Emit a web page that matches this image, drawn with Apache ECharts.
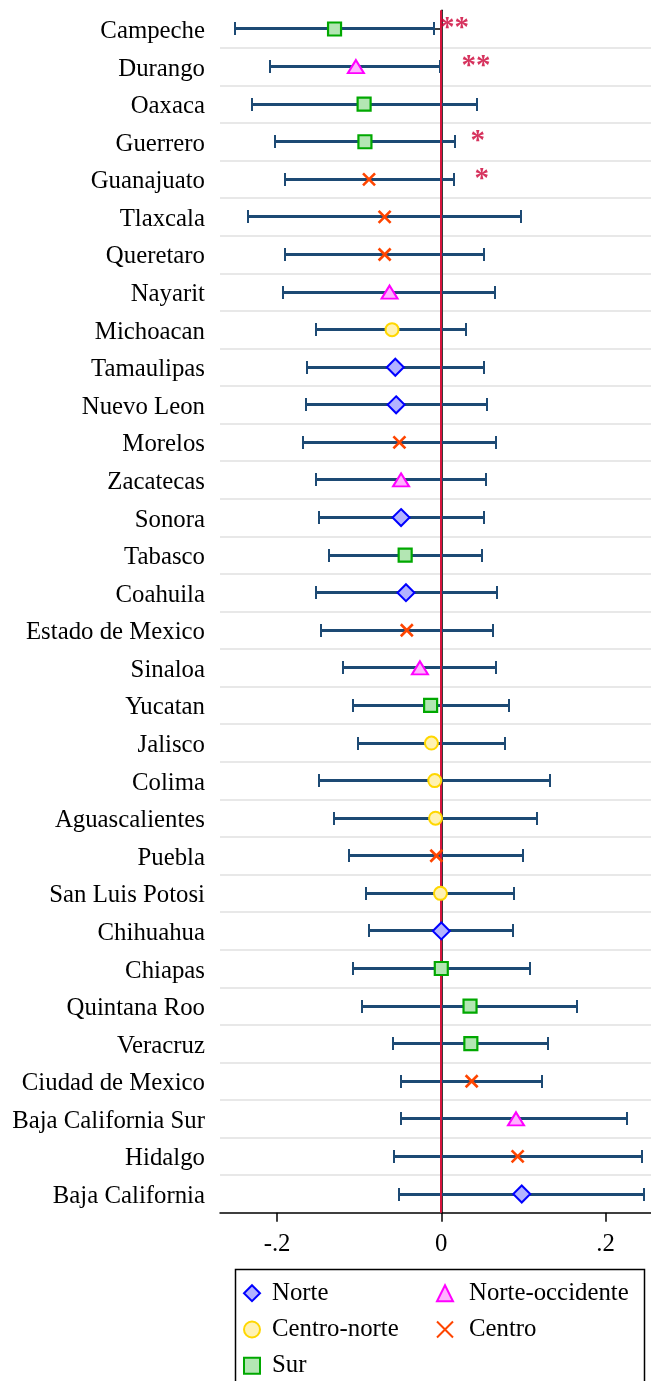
<!DOCTYPE html>
<html>
<head>
<meta charset="utf-8">
<script src="https://cdn.jsdelivr.net/npm/echarts@6/dist/echarts.min.js"></script>
<style>
  html, body { margin: 0; padding: 0; background: #fff; }
  #chart { width: 651px; height: 1381px; }
</style>
</head>
<body>
<div id="chart"></div>
<script>
// State-level coefficients with 95% confidence intervals
const states = [
  'Campeche', 'Durango', 'Oaxaca', 'Guerrero', 'Guanajuato', 'Tlaxcala', 'Queretaro',
  'Nayarit', 'Michoacan', 'Tamaulipas', 'Nuevo Leon', 'Morelos', 'Zacatecas', 'Sonora',
  'Tabasco', 'Coahuila', 'Estado de Mexico', 'Sinaloa', 'Yucatan', 'Jalisco', 'Colima',
  'Aguascalientes', 'Puebla', 'San Luis Potosi', 'Chihuahua', 'Chiapas', 'Quintana Roo',
  'Veracruz', 'Ciudad de Mexico', 'Baja California Sur', 'Hidalgo', 'Baja California'
];
const regionOf = [
  'Sur', 'Norte-occidente', 'Sur', 'Sur', 'Centro', 'Centro', 'Centro',
  'Norte-occidente', 'Centro-norte', 'Norte', 'Norte', 'Centro', 'Norte-occidente', 'Norte',
  'Sur', 'Norte', 'Centro', 'Norte-occidente', 'Sur', 'Centro-norte', 'Centro-norte',
  'Centro-norte', 'Centro', 'Centro-norte', 'Norte', 'Sur', 'Sur',
  'Sur', 'Centro', 'Norte-occidente', 'Centro', 'Norte'
];
const estimate = [
  -0.130, -0.104, -0.094, -0.093, -0.088, -0.069, -0.069,
  -0.063, -0.060, -0.056, -0.055, -0.051, -0.049, -0.049,
  -0.044, -0.043, -0.042, -0.026, -0.013, -0.012, -0.008,
  -0.007, -0.006, -0.001, 0.000, 0.000, 0.035,
  0.036, 0.037, 0.091, 0.093, 0.098
];
const lower = [
  -0.251, -0.208, -0.230, -0.202, -0.190, -0.235, -0.190,
  -0.193, -0.152, -0.163, -0.165, -0.168, -0.152, -0.149,
  -0.137, -0.153, -0.147, -0.120, -0.108, -0.102, -0.149,
  -0.131, -0.113, -0.092, -0.088, -0.108, -0.096,
  -0.059, -0.049, -0.049, -0.058, -0.051
];
const upper = [
  -0.009, -0.001, 0.043, 0.017, 0.015, 0.097, 0.052,
  0.066, 0.030, 0.052, 0.056, 0.067, 0.054, 0.052,
  0.049, 0.068, 0.063, 0.067, 0.082, 0.078, 0.133,
  0.117, 0.100, 0.089, 0.087, 0.108, 0.165,
  0.130, 0.123, 0.226, 0.244, 0.247
];
const stars = [
  '**', '**', '', '*', '*', '', '',
  '', '', '', '', '', '', '',
  '', '', '', '', '', '', '',
  '', '', '', '', '', '',
  '', '', '', '', ''
];
const regions = ['Norte', 'Norte-occidente', 'Centro-norte', 'Centro', 'Sur'];
const xTicks = [-0.2, 0, 0.2];

const SERIF = "'Liberation Serif', 'Times New Roman', serif";
const BAR = '#1d4a74';
const RED = '#d7143c';
const GRID = '#e8e8e8';

const markerStyle = {
  'Norte':           { symbol: 'diamond',  size: [17, 17], fill: '#b3b3ff', stroke: '#0000ff', w: 2 },
  'Norte-occidente': { symbol: 'triangle', size: [16, 13], fill: '#ffb3ff', stroke: '#ff00ff', w: 2 },
  'Centro-norte':    { symbol: 'circle',   size: 13,       fill: '#fff2b3', stroke: '#ffd700', w: 2 },
  'Centro':          { symbol: 'path://M0,0L10,10M10,0L0,10', size: 12, fill: '#ff4500', stroke: '#ff4500', w: 2.6 },
  'Sur':             { symbol: 'rect',     size: 13,       fill: '#b3e6b3', stroke: '#00a800', w: 2.2 }
};

function tickText(v) {
  if (Math.abs(v) < 1e-9) return '0';
  return String(+v.toFixed(1)).replace('0.', '.');
}

const chart = echarts.init(document.getElementById('chart'), null, { renderer: 'canvas' });

// confidence-interval bars with end caps, snapped to the pixel grid for crisp strokes
const ciSeries = {
  type: 'custom',
  name: 'ci',
  z: 2,
  silent: true,
  encode: { x: [1, 2], y: 0 },
  data: states.map((s, i) => [i, lower[i], upper[i]]),
  renderItem(params, api) {
    const row = api.value(0);
    const a = api.coord([api.value(1), row]);
    const b = api.coord([api.value(2), row]);
    const y = Math.floor(a[1]) + 0.5;
    const xa = Math.round(a[0]);
    const xb = Math.round(b[0]);
    const cap = 6.5;
    return {
      type: 'group',
      children: [
        { type: 'line', shape: { x1: xa, y1: y, x2: xb, y2: y }, style: { stroke: BAR, lineWidth: 3 } },
        { type: 'line', shape: { x1: xa, y1: y - cap, x2: xa, y2: y + cap }, style: { stroke: BAR, lineWidth: 2 } },
        { type: 'line', shape: { x1: xb, y1: y - cap, x2: xb, y2: y + cap }, style: { stroke: BAR, lineWidth: 2 } }
      ]
    };
  }
};

// vertical reference line at zero, snapped to whole pixels
const zeroSeries = {
  type: 'custom',
  name: 'zero',
  z: 3,
  silent: true,
  data: [[0]],
  encode: { x: 0 },
  renderItem(params, api) {
    const cs = params.coordSys;
    const x = Math.round(api.coord([api.value(0), 0])[0]);
    return { type: 'line', shape: { x1: x, y1: cs.y, x2: x, y2: cs.y + cs.height }, style: { stroke: RED, lineWidth: 2 } };
  }
};

const markerSeries = regions.map(r => {
  const m = markerStyle[r];
  return {
    type: 'scatter',
    name: r,
    z: 4,
    symbol: m.symbol,
    symbolSize: m.size,
    itemStyle: { color: m.fill, borderColor: m.stroke, borderWidth: m.w, opacity: 1 },
    data: states.map((s, i) => regionOf[i] === r ? [estimate[i], s] : null).filter(Boolean)
  };
});

const starSeries = {
  type: 'scatter',
  name: 'sig',
  z: 5,
  silent: true,
  symbolSize: 1,
  itemStyle: { color: 'rgba(0,0,0,0)' },
  data: states.map((s, i) => stars[i] ? [estimate[i], s, stars[i]] : null).filter(Boolean),
  label: {
    show: true,
    position: 'right',
    distance: 105,
    formatter: p => p.data[2],
    color: '#cc0036',
    fontFamily: SERIF,
    fontWeight: 'bold',
    fontSize: 29
  }
};

function legendText(gap) {
  return {
    fontFamily: SERIF, fontSize: 24.8, color: '#000', lineHeight: 24,
    rich: { g: { width: gap } }
  };
}

chart.setOption({
  animation: false,
  backgroundColor: '#fff',
  textStyle: { fontFamily: SERIF },
  grid: { left: 220, right: 0, top: 10.2, bottom: 168.2, outerBoundsMode: 'none', containLabel: false },
  xAxis: {
    type: 'value',
    min: -0.2695,
    max: 0.2554,
    minInterval: 0.2,
    maxInterval: 0.2,
    axisLine: { show: true, onZero: false, lineStyle: { color: '#000', width: 1.5 } },
    axisTick: { show: true, length: 9, customValues: xTicks, lineStyle: { color: '#000', width: 1.5 } },
    axisLabel: { customValues: xTicks, margin: 19, fontSize: 24.8, fontFamily: SERIF, color: '#000', formatter: tickText },
    splitLine: { show: true, showMinLine: false, showMaxLine: false, lineStyle: { color: GRID, width: 2 } }
  },
  yAxis: {
    type: 'category',
    data: states,
    inverse: true,
    boundaryGap: true,
    axisLine: { show: true, lineStyle: { color: '#000', width: 1.5 } },
    axisTick: { show: true, alignWithLabel: true, interval: 0, length: 9, lineStyle: { color: '#000', width: 1.5 } },
    axisLabel: {
      interval: 0, margin: 15, color: '#000',
      formatter: v => '{t|' + v + '}',
      rich: { t: { fontSize: 24.8, fontFamily: SERIF, color: '#000', padding: [5, 0, 0, 0] } }
    },
    splitLine: { show: true, interval: 0, showMinLine: false, showMaxLine: false, lineStyle: { color: GRID, width: 2 } }
  },
  legend: [
    {
      data: ['Norte', 'Centro-norte', 'Sur'],
      orient: 'vertical', left: 243, top: 1280.7, padding: 0,
      itemWidth: 16, itemHeight: 16, itemGap: 11.3, selectedMode: false,
      formatter: name => '{g|}' + name,
      textStyle: legendText(7)
    },
    {
      data: ['Norte-occidente', 'Centro'],
      orient: 'vertical', left: 436, top: 1280.7, padding: 0,
      itemWidth: 16, itemHeight: 16, itemGap: 11.3, selectedMode: false,
      formatter: name => '{g|}' + name,
      textStyle: legendText(11)
    }
  ],
  graphic: [
    {
      type: 'rect', silent: true, z: 0,
      shape: { x: 235.5, y: 1269.5, width: 409, height: 140 },
      style: { fill: 'rgba(0,0,0,0)', stroke: '#000', lineWidth: 1.5 }
    }
  ],
  series: [ciSeries, zeroSeries, ...markerSeries, starSeries]
});
</script>
</body>
</html>
